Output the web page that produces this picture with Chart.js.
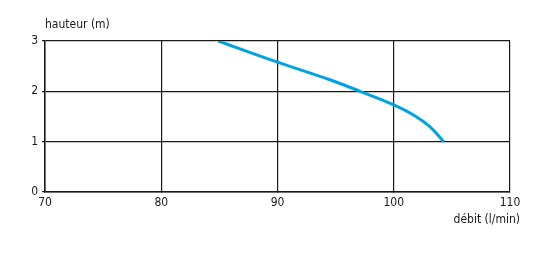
<!DOCTYPE html>
<html>
<head>
<meta charset="utf-8">
<script src="https://cdn.jsdelivr.net/npm/chart.js@4"></script>
<style>
  html, body { margin: 0; padding: 0; background: #fff; }
  #wrap { width: 558px; height: 266px; }
</style>
</head>
<body>
<div id="wrap"><canvas id="myChart"></canvas></div>
<script>
// data
const debit   = [84.9, 90, 94.5, 97.1, 100, 101.7, 103.1, 104.3];
const hauteur = [3, 2.58, 2.23, 2.0, 1.73, 1.53, 1.3, 1.0];
const xTicks = [70, 80, 90, 100, 110];
const yTicks = [0, 1, 2, 3];
const xTitle = 'débit (l/min)';
const yTitle = 'hauteur (m)';

const ctx = document.getElementById('myChart');
const font = "'Liberation Sans Narrow', 'DejaVu Sans Condensed', Arial, sans-serif";

let points = [];
for (let i = 0; i < debit.length; i++) {
  points.push({ x: debit[i], y: hauteur[i] });
}

// axis titles drawn as plain text
const titles = {
  id: 'titles',
  afterDraw(chart) {
    const c = chart.ctx;
    const a = chart.chartArea;
    c.save();
    c.fillStyle = '#1a1a1a';
    c.font = '12px ' + font;
    c.textBaseline = 'middle';
    c.textAlign = 'left';
    c.fillText(yTitle, a.left, a.top - 16);
    c.textAlign = 'right';
    c.fillText(xTitle, a.right + 10, a.bottom + 28);
    c.restore();
  }
};

new Chart(ctx, {
  type: 'line',
  data: {
    datasets: [{
      data: points,
      borderColor: '#00a3e0',
      borderWidth: 3,
      pointRadius: 0,
      tension: 0.4,
      fill: false
    }]
  },
  options: {
    responsive: true,
    maintainAspectRatio: false,
    animation: false,
    layout: { padding: { top: 41, right: 48, left: 0, bottom: 0 } },
    plugins: { legend: { display: false }, tooltip: { enabled: false } },
    scales: {
      x: {
        type: 'linear',
        min: 70, max: 110,
        afterBuildTicks(s) { s.ticks = xTicks.map(v => ({ value: v })); },
        afterFit(s) { s.height = 74; },
        grid: { color: '#1a1a1a', lineWidth: 1.2, tickLength: 0 },
        border: { color: '#1a1a1a', width: 1.5 },
        ticks: { color: '#1a1a1a', font: { family: font, size: 12 }, padding: 4, maxRotation: 0 }
      },
      y: {
        min: 0, max: 3,
        afterBuildTicks(s) { s.ticks = yTicks.map(v => ({ value: v })); },
        afterFit(s) { s.width = 45; },
        grid: { color: '#1a1a1a', lineWidth: 1.2, tickLength: 3 },
        border: { color: '#1a1a1a', width: 1.5 },
        ticks: { color: '#1a1a1a', font: { family: font, size: 12 }, padding: 4 }
      }
    }
  },
  plugins: [titles]
});
</script>
</body>
</html>
